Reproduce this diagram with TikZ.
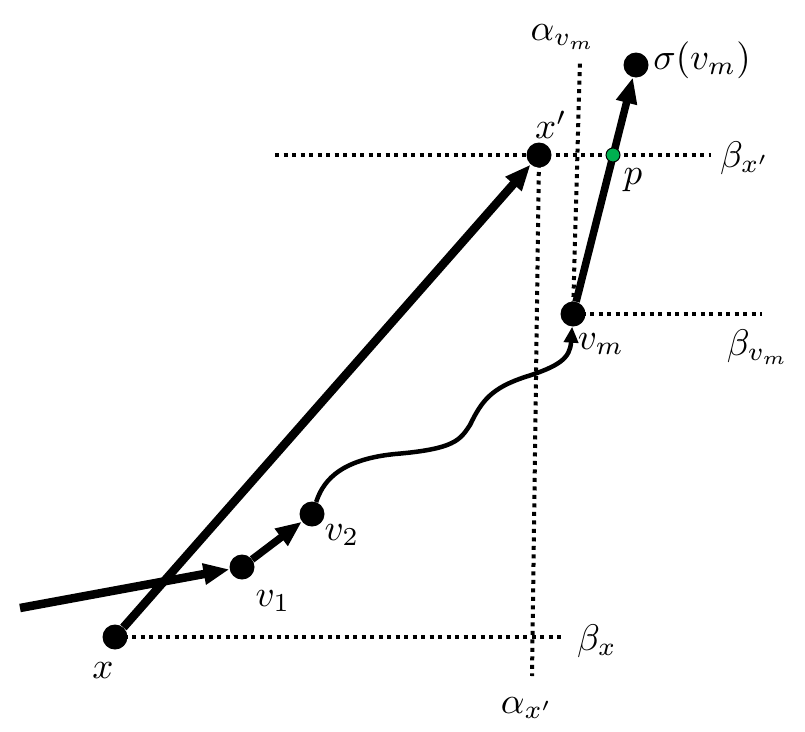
\documentclass[tikz,border=0pt]{standalone}
\usetikzlibrary{arrows.meta,backgrounds}
\definecolor{pgreen}{RGB}{0,176,80}
\begin{document}
\begin{tikzpicture}[x=1pt,y=-1pt,
  dot/.style={circle,fill=black,inner sep=0pt,minimum size=25pt},
  lbl/.style={inner sep=0pt,scale=3.7},
  thickarrow/.style={line width=8.5pt,-{Triangle[length=26pt,width=20pt]}},
  thinarrow/.style={line width=4.5pt,-{Triangle[length=16pt,width=14pt]}},
  dotline/.style={line width=4pt,dash pattern=on 4pt off 4.5pt}]
\useasboundingbox (0,0) rectangle (805,731);
% points
\node[dot] (x) at (115,637) {};
\node[dot] (v1) at (242,567) {};
\node[dot] (v2) at (312,514) {};
\node[dot] (xp) at (539,155) {};
\node[dot] (vm) at (573,314) {};
\node[dot] (s) at (636,65) {};
\coordinate (start) at (20,608);
\coordinate (bxe) at (565,637);
\coordinate (axpe) at (532,676);
\coordinate (avme) at (580,60);
\coordinate (bxps) at (275,155);
\coordinate (bxpe) at (711,155);
\coordinate (bvme) at (762,314);
% dotted lines
\begin{scope}[on background layer]
\draw[dotline] (x.center) -- (bxe);
\draw[dotline] (xp.center) -- (axpe);
\draw[dotline] (vm.center) -- (avme);
\draw[dotline] (bxps) -- (bxpe);
\draw[dotline] (vm.center) -- (bvme);
\end{scope}
% arrows
\draw[thickarrow] (start) -- (v1);
\draw[thickarrow] (x) -- (xp);
\draw[thickarrow,line width=7.5pt] (v1) -- (v2);
\draw[thickarrow,line width=7.5pt] (vm) -- (s);
\draw[thinarrow] (v2) .. controls (322,485) and (335,460) .. (395,454)
  .. controls (455,449) and (460,440) .. (470,425)
  .. controls (482,400) and (492,388) .. (525,377)
  .. controls (560,366) and (570,358) .. (vm);
\node[circle,fill=pgreen,draw=black,line width=1pt,minimum size=14pt,inner sep=0pt] (p) at (613,155) {};
% labels
\node[lbl] (lavm) at (563,37) {$\alpha_{v_m}$};
\node[lbl] (ls) at (702,60) {$\sigma(v_m)$};
\node[lbl] (lxp) at (551,125) {$x'$};
\node[lbl] (lbxp) at (745,158) {$\beta_{x'}$};
\node[lbl] (lp) at (633,180) {$p$};
\node[lbl] (lvm) at (601,344) {$v_m$};
\node[lbl] (lbvm) at (758,347) {$\beta_{v_m}$};
\node[lbl] (lv1) at (273,601) {$v_1$};
\node[lbl] (lv2) at (342,535) {$v_2$};
\node[lbl] (lx) at (103,671) {$x$};
\node[lbl] (lbx) at (597,641) {$\beta_x$};
\node[lbl] (laxp) at (527,708) {$\alpha_{x'}$};
\end{tikzpicture}
\end{document}
